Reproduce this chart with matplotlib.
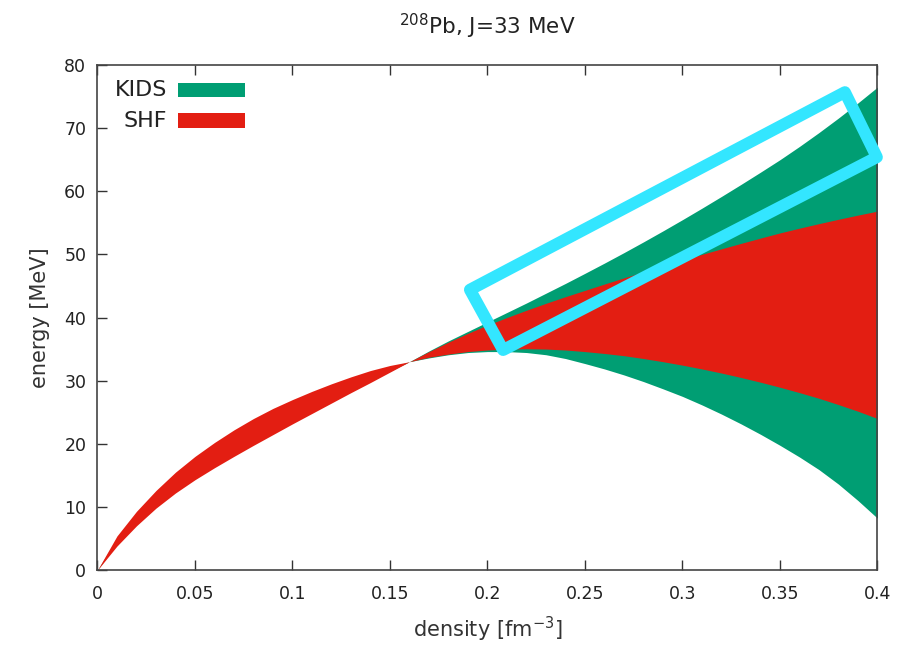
import matplotlib
matplotlib.use('Agg')
import matplotlib.pyplot as plt
import numpy as np
from matplotlib.patches import Polygon, Rectangle

# density grid [fm^-3]
density = [0.00, 0.01, 0.02, 0.03, 0.04, 0.05, 0.06, 0.07, 0.08, 0.09,
           0.10, 0.11, 0.12, 0.13, 0.14, 0.15, 0.16, 0.17, 0.18, 0.19,
           0.20, 0.21, 0.22, 0.23, 0.24, 0.25, 0.26, 0.27, 0.28, 0.29,
           0.30, 0.31, 0.32, 0.33, 0.34, 0.35, 0.36, 0.37, 0.38, 0.39, 0.40]

# SHF band (MeV)
shf_upper = [0.0, 5.4, 9.3, 12.6, 15.5, 18.0, 20.2, 22.2, 24.0, 25.6,
             27.0, 28.3, 29.5, 30.6, 31.6, 32.4, 33.0, 34.6, 36.1, 37.5,
             38.8, 40.0, 41.15, 42.25, 43.3, 44.3, 45.3, 46.28, 47.24, 48.18,
             49.1, 50.0, 50.88, 51.74, 52.58, 53.4, 54.15, 54.87, 55.56, 56.22, 56.85]
shf_lower = [0.0, 3.8, 7.0, 9.8, 12.2, 14.3, 16.2, 18.0, 19.75, 21.45,
             23.15, 24.8, 26.45, 28.1, 29.7, 31.35, 33.0, 33.7, 34.2, 34.6,
             34.85, 35.0, 35.05, 35.0, 34.85, 34.6, 34.3, 33.95, 33.5, 33.0,
             32.45, 31.85, 31.2, 30.5, 29.75, 28.95, 28.1, 27.2, 26.2, 25.15, 24.0]

# KIDS band (MeV)
kids_upper = [0.0, 5.0, 8.8, 12.0, 14.9, 17.4, 19.6, 21.6, 23.4, 25.0,
              26.4, 27.8, 29.0, 30.2, 31.2, 32.1, 33.0, 34.7, 36.3, 37.8,
              39.3, 40.8, 42.3, 43.85, 45.4, 47.0, 48.62, 50.28, 51.98, 53.72,
              55.5, 57.32, 59.18, 61.08, 63.02, 65.0, 67.1, 69.3, 71.6, 74.0, 76.5]
kids_lower = [0.0, 4.2, 7.5, 10.3, 12.7, 14.8, 16.7, 18.5, 20.2, 21.9,
              23.6, 25.2, 26.8, 28.4, 29.9, 31.5, 33.0, 33.6, 34.1, 34.45,
              34.6, 34.6, 34.45, 34.1, 33.5, 32.7, 31.85, 30.9, 29.85, 28.7,
              27.5, 26.15, 24.7, 23.15, 21.5, 19.75, 17.9, 15.9, 13.6, 11.0, 8.2]

# highlight box corners (density, energy)
box_x = [0.191, 0.208, 0.3997, 0.3833]
box_y = [44.4, 34.85, 65.4, 75.7]

green = '#009E73'
red = '#E31E12'
cyan = '#33E6FF'

plt.rcParams['font.family'] = ['DejaVu Sans']

fig = plt.figure(figsize=(9.06, 6.45), dpi=100)
ax = fig.add_axes([0.1076, 0.1163, 0.8609, 0.7829])

ax.fill_between(density, kids_lower, kids_upper, color=green, lw=0, zorder=1)
ax.fill_between(density, shf_lower, shf_upper, color=red, lw=0, zorder=2)

ax.set_xlim(0, 0.4)
ax.set_ylim(0, 80)
xt = np.round(np.arange(0, 0.401, 0.05), 2)
ax.set_xticks(xt)
ax.set_xticklabels([f'{v:g}' for v in xt])
ax.set_yticks(range(0, 81, 10))
ax.tick_params(direction='in', length=7, width=1, color='#333333',
               top=True, right=False, labelsize=12.5, labelcolor='#222222')
ax.tick_params(axis='x', pad=11)
ax.tick_params(axis='y', pad=8)
for sp in ax.spines.values():
    sp.set_color('#444444')
    sp.set_linewidth(1.2)

ax.set_xlabel('density [fm$^{-3}$]', fontsize=15, color='#333333', labelpad=8)
ax.set_ylabel('energy [MeV]', fontsize=15, color='#333333', labelpad=10)
ax.set_title('$^{208}$Pb, J=33 MeV', fontsize=15.5, color='#222222', pad=22)

# gnuplot style key
for i, (name, col) in enumerate([('KIDS', green), ('SHF', red)]):
    yc = 0.951 - i * 0.061
    ax.text(0.089, yc, name, transform=ax.transAxes, ha='right', va='center',
            fontsize=16, color='#222222')
    ax.add_patch(Rectangle((0.103, yc - 0.014), 0.086, 0.028,
                           transform=ax.transAxes, color=col, lw=0, zorder=3))

ax.add_patch(Polygon(list(zip(box_x, box_y)), closed=True, fill=False,
                     edgecolor=cyan, lw=8.6, joinstyle='round',
                     clip_on=False, zorder=5))

fig.savefig('out.png', dpi=100)
